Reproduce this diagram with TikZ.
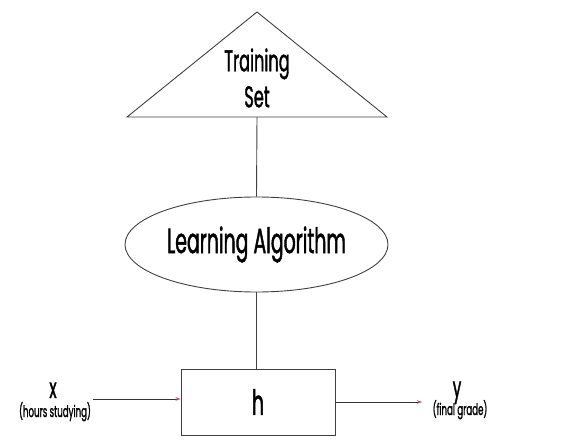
\documentclass[tikz,border=0pt]{standalone}
\usepackage{fontspec}
\setmainfont{Poppins}[FakeStretch=0.54, FakeBold=1.2]
\usepackage{tikz}
\usetikzlibrary{shapes.geometric,arrows.meta}

\definecolor{tipred}{HTML}{C04A68}

\tikzset{
    outline/.style={draw=black!75, line width=0.9pt},
    flow/.style={draw=black!80, line width=0.9pt,
        -{Stealth[length=5pt,width=3.5pt,color=tipred]}},
    bigtext/.style={font=\fontsize{30}{36}\selectfont},
    smalltext/.style={font=\fontsize{16}{18}\selectfont}
}

\begin{document}
\begin{tikzpicture}[x=1pt, y=-1pt]
            \useasboundingbox (0, 0) rectangle (567, 441);
            % training set triangle
            \coordinate (apex) at (257, 12);
            \coordinate (baseL) at (127, 117);
            \coordinate (baseR) at (387, 117);
            \coordinate (baseM) at (257, 117);
            \draw[outline] (baseL) -- (apex) -- (baseR) -- cycle;
            \node[bigtext, align=center, inner sep=0] at (257, 78) (train) {Training\\Set};
            % learning algorithm
            \node[outline, ellipse, minimum width=263, minimum height=95, inner sep=0,
                  font=\fontsize{35}{40}\selectfont] at (256.5, 244.5) (algo) {Learning Algorithm};
            % hypothesis box
            \node[outline, rectangle, minimum width=154, minimum height=66, inner sep=0,
                  font=\fontsize{35}{40}\selectfont] at (258, 402) (hyp) {h};
            \draw[outline] (baseM) -- (algo.north);
            \draw[outline] (algo.south) -- (hyp.north -| algo.south);
            % input and output
            \coordinate (xin) at (93, 399);
            \coordinate (yout) at (422, 402);
            \draw[flow] (xin) -- (xin -| hyp.west);
            \draw[flow] (hyp.east) -- (yout);
            \node[font=\fontsize{28}{32}\selectfont, anchor=base] at (53, 398) (xlab) {x};
            \node[smalltext, anchor=base] at (55, 417) (xnote) {(hours studying)};
            \node[font=\fontsize{28}{32}\selectfont, anchor=base] at (457, 397) (ylab) {y};
            \node[smalltext, anchor=base] at (460, 415) (ynote) {(final grade)};
    \end{tikzpicture}
\end{document}
